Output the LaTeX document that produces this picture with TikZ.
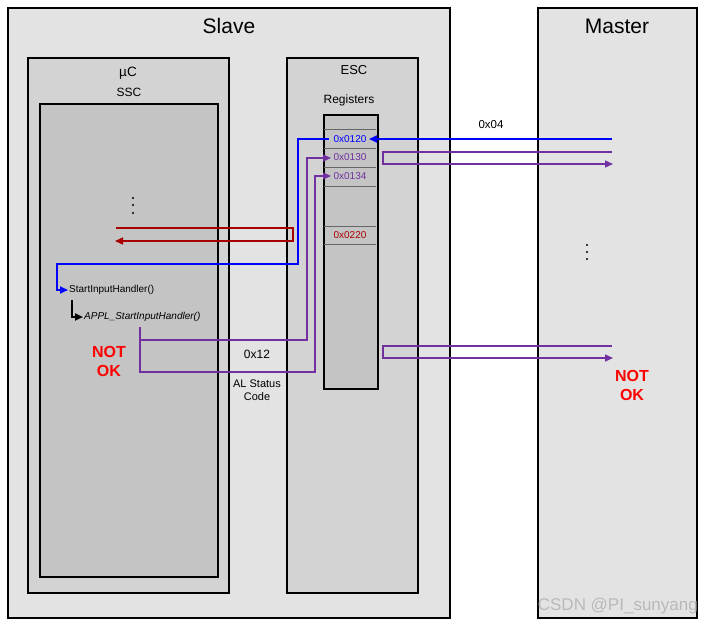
\documentclass[tikz,border=0pt]{standalone}
\usepackage{fontspec}
\setmainfont{Liberation Sans}
\usetikzlibrary{arrows.meta}
\definecolor{slavebg}{HTML}{E3E3E3}
\definecolor{midbg}{HTML}{D3D3D3}
\definecolor{darkbg}{HTML}{C4C4C4}
\definecolor{pblue}{HTML}{0000FF}
\definecolor{ppurple}{HTML}{7030A0}
\definecolor{pdred}{HTML}{A80000}
\definecolor{nred}{HTML}{FF0000}
\tikzset{
  box/.style={draw=black, line width=1.8pt, anchor=north west, inner sep=0pt},
  lbl/.style={inner sep=1pt},
  regtxt/.style={inner sep=1pt, font=\fontsize{10}{12}\selectfont},
  tip/.style={-{Triangle[length=8pt,width=7pt]}},
  bl/.style={draw=pblue, line width=1.8pt},
  pu/.style={draw=ppurple, line width=1.5pt},
  dr/.style={draw=pdred, line width=1.5pt},
  notok/.style={text=nred, font=\fontsize{16}{19}\selectfont\bfseries, align=center, inner sep=0pt},
  dotc/.style={fill=black, circle, inner sep=0pt, minimum size=2.2pt},
}
\begin{document}
\begin{tikzpicture}[x=1pt,y=-1pt]
\useasboundingbox (0,0) rectangle (713,626);
\fill[white] (0,0) rectangle (713,626);
% boxes
\node[box, fill=slavebg, minimum width=442pt, minimum height=610pt] (slave) at (7,7) {};
\node[box, fill=midbg, minimum width=201pt, minimum height=535pt] (uc) at (27,57) {};
\node[box, fill=darkbg, minimum width=178pt, minimum height=473pt] (ssc) at (39,103) {};
\node[box, fill=midbg, minimum width=131pt, minimum height=535pt] (esc) at (286,57) {};
\node[box, fill=slavebg, minimum width=159pt, minimum height=610pt] (master) at (537,7) {};
\node[box, fill=darkbg, line width=1.6pt, minimum width=54pt, minimum height=274pt] (reg) at (323,114) {};
% register rows
\foreach \yy in {129,148,167,186,226,244}
  \draw[gray!80!black, line width=0.6pt] (323.8,\yy) -- (376.2,\yy);
% titles
\node[lbl, font=\fontsize{21}{24}\selectfont] (tslave) at (229,26) {Slave};
\node[lbl, font=\fontsize{21}{24}\selectfont] (tmaster) at (617,26) {Master};
\node[lbl, font=\fontsize{13.5}{16}\selectfont] (tuc) at (128,73) {µC};
\node[lbl, font=\fontsize{12}{14}\selectfont] (tssc) at (129,92) {SSC};
\node[lbl, font=\fontsize{13}{15}\selectfont] (tesc) at (354,70) {ESC};
\node[lbl, font=\fontsize{12}{14}\selectfont] (treg) at (349,100) {Registers};
% register texts
\node[regtxt, text=pblue] (r120) at (350,139) {0x0120};
\node[regtxt, text=ppurple] (r130) at (350,157) {0x0130};
\node[regtxt, text=ppurple] (r134) at (350,176) {0x0134};
\node[regtxt, text=pdred] (r220) at (350,235) {0x0220};
% other labels
\node[lbl, font=\fontsize{11.5}{13}\selectfont] (t04) at (491,125) {0x04};
\node[lbl, font=\fontsize{12}{14}\selectfont] (t12) at (257,354) {0x12};
\node[lbl, font=\fontsize{11}{13.5}\selectfont, align=center] (tal) at (257,390) {AL Status\\Code};
\node[lbl, anchor=west, font=\fontsize{10}{12}\selectfont] (sih) at (68,290) {StartInputHandler()};
\node[lbl, anchor=west, font=\fontsize{10}{12}\selectfont\itshape] (appl) at (83,317) {APPL\_StartInputHandler()};
\node[notok] (nok1) at (109,361) {NOT\\OK};
\node[notok] (nok2) at (632,385) {NOT\\OK};
\node[text=gray!55, font=\fontsize{17}{19}\selectfont, anchor=east, inner sep=0pt] (wm) at (698,606) {CSDN @PI\_sunyang};
% dots
\foreach \yy/\nn in {198/a,205/b,213/c} \node[dotc] (sd\nn) at (133,\yy) {};
\foreach \yy/\nn in {245/a,252/b,259/c} \node[dotc] (md\nn) at (587,\yy) {};
% coordinates
\coordinate (mA) at (612,139);
\coordinate (rA) at (369,139);
\coordinate (rAl) at (329,139);
\coordinate (mB1) at (612,152);
\coordinate (mB2) at (613,164);
\coordinate (mC1) at (612,346);
\coordinate (mC2) at (613,358);
\coordinate (sP) at (140,327);
\coordinate (sPm) at (140,340);
\coordinate (r130l) at (331,158);
\coordinate (r134l) at (331,176);
\coordinate (sR1) at (116,228);
\coordinate (sR2) at (115,241);
% blue
\draw[bl, tip] (mA) -- (rA);
\draw[bl, tip] (rAl) -- (298,139) -- (298,264) -- (57,264) -- (57,290) -- (sih.west);
% black
\draw[black, line width=2pt, tip] (72,300) -- (72,317) -- (appl.west);
% purple slave side
\draw[pu, tip] (sP) -- (sPm) -- (307,340) -- (307,158) -- (r130l);
\draw[pu, tip] (sPm) -- (140,372) -- (315,372) -- (315,176) -- (r134l);
% purple master loops
\draw[pu, tip] (mB1) -- (383,152) -- (383,164) -- (mB2);
\draw[pu, tip] (mC1) -- (383,346) -- (383,358) -- (mC2);
% dark red loop
\draw[dr, tip] (sR1) -- (293,228) -- (293,241) -- (sR2);
\end{tikzpicture}
\end{document}
